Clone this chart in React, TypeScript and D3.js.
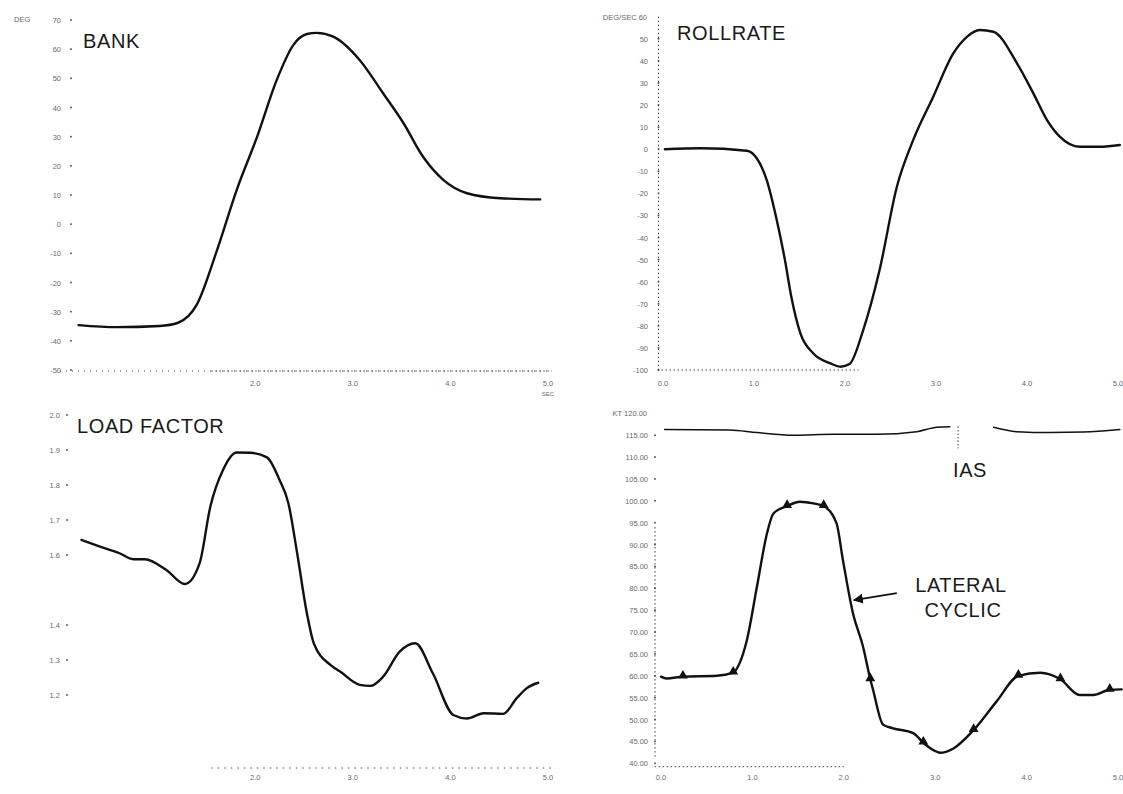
import React from 'react';
import * as d3 from 'd3';

// ---------- data ----------
const timeTicks = [0, 1, 2, 3, 4, 5];

const bankTime = [0.19, 0.58, 1.02, 1.21, 1.40, 1.61, 1.81, 2.02, 2.22, 2.39, 2.53, 2.63, 2.80, 3.07, 3.31, 3.52, 3.72, 3.93, 4.17, 4.51, 4.92];
const bankDeg = [-34.6, -35.3, -34.9, -33.8, -27.7, -8.8, 11.7, 30.0, 49.4, 61.4, 65.2, 65.6, 64.3, 56.3, 44.9, 34.6, 23.1, 15.1, 10.6, 8.9, 8.5];
const bankTicks = [70, 60, 50, 40, 30, 20, 10, 0, -10, -20, -30, -40, -50];
const bankTimeLabels = [2, 3, 4, 5];

const rollTime = [0.02, 0.41, 0.92, 1.03, 1.14, 1.25, 1.34, 1.41, 1.51, 1.65, 1.84, 1.95, 2.05, 2.20, 2.38, 2.57, 2.75, 2.97, 3.19, 3.34, 3.48, 3.63, 3.89, 4.07, 4.22, 4.36, 4.58, 4.80, 5.02];
const rollRate = [0, 0.4, -0.7, -4.1, -14.0, -32.1, -50.2, -66.8, -83.4, -92.4, -97.0, -98.5, -97.3, -81.9, -54.7, -17.0, 4.2, 23.8, 43.4, 50.9, 54.0, 53.2, 38.9, 25.3, 13.2, 5.7, 1.1, 1.1, 1.9];
const rollTicks = [60, 50, 40, 30, 20, 10, 0, -10, -20, -30, -40, -50, -60, -70, -80, -90, -100];
const rollTimeLabels = [0, 1, 2, 3, 4, 5];

const loadTime = [0.22, 0.41, 0.61, 0.75, 0.87, 1.09, 1.28, 1.43, 1.54, 1.67, 1.81, 1.95, 2.12, 2.25, 2.34, 2.43, 2.53, 2.60, 2.77, 2.87, 3.07, 3.18, 3.31, 3.48, 3.64, 3.82, 4.03, 4.17, 4.34, 4.54, 4.68, 4.78, 4.90];
const loadG = [1.643, 1.624, 1.605, 1.588, 1.588, 1.557, 1.517, 1.576, 1.738, 1.843, 1.893, 1.892, 1.879, 1.814, 1.748, 1.605, 1.433, 1.348, 1.286, 1.267, 1.229, 1.226, 1.252, 1.324, 1.348, 1.262, 1.143, 1.133, 1.148, 1.146, 1.191, 1.219, 1.235];
const loadTicks = [2.0, 1.9, 1.8, 1.7, 1.6, 1.4, 1.3, 1.2];
const loadTimeLabels = [2, 3, 4, 5];

const iasTime = [0.04, 0.75, 1.05, 1.45, 1.89, 2.36, 2.80, 3.02, 3.16, 3.40, 3.64, 3.89, 4.26, 4.62, 5.02];
const iasKt = [116.3, 116.2, 115.6, 115.0, 115.2, 115.2, 115.8, 116.8, 116.9, NaN, 116.8, 115.8, 115.6, 115.7, 116.3];
const iasMarkTime = 3.25;

const cyclicTime = [0, 0.06, 0.24, 0.61, 0.79, 0.86, 0.94, 1.05, 1.16, 1.23, 1.38, 1.52, 1.67, 1.78, 1.92, 1.99, 2.10, 2.21, 2.29, 2.32, 2.43, 2.54, 2.76, 2.87, 2.98, 3.05, 3.20, 3.42, 3.67, 3.91, 4.15, 4.37, 4.58, 4.73, 4.91, 5.04];
const cyclicPct = [59.8, 59.4, 59.8, 60.0, 60.7, 62.9, 68.2, 80.4, 92.6, 97.1, 98.8, 99.8, 99.4, 98.8, 94.9, 86.5, 74.3, 66.7, 59.2, 56.8, 48.8, 48.0, 46.9, 44.7, 43.0, 42.4, 43.4, 47.6, 54.1, 60.0, 60.7, 59.2, 55.6, 55.6, 56.8, 56.9];
const cyclicMarkerIdx = [2, 4, 10, 13, 18, 23, 27, 29, 31, 34];
const cyclicTicks = [120, 115, 110, 105, 100, 95, 90, 85, 80, 75, 70, 65, 60, 55, 50, 45, 40];
const cyclicTimeLabels = [0, 1, 2, 3, 4, 5];
const arrowFrom = [2.58, 78.9];
const arrowTo = [2.11, 77.3];

// ---------- helpers ----------
const FONT = "'Liberation Sans', Arial, Helvetica, sans-serif";
const tickStyle = { fontSize: 7.5, fill: '#6a6a6a', fontFamily: FONT } as const;

type Pt = [number, number];
const zip = (a: number[], b: number[]): Pt[] => a.map((v, i) => [v, b[i]]);

function YLabels({ y, ticks, x, dotX, fmt }: { y: d3.ScaleLinear<number, number>; ticks: number[]; x: number; dotX: number; fmt: (v: number) => string }) {
  return (
    <g>
      {ticks.map((t, i) => (
        <g key={i}>
          <text x={x} y={y(t) + 3} textAnchor="end" style={tickStyle}>{fmt(t)}</text>
          <rect x={dotX - 0.8} y={y(t) - 0.8} width={1.6} height={1.6} fill="#444" />
        </g>
      ))}
    </g>
  );
}

function XLabels({ x, ticks, yPos }: { x: d3.ScaleLinear<number, number>; ticks: number[]; yPos: number }) {
  return (
    <g>
      {ticks.map((t, i) => (
        <text key={i} x={x(t)} y={yPos} textAnchor="middle" style={tickStyle}>{t.toFixed(1)}</text>
      ))}
    </g>
  );
}

export default function App() {
  // Bank panel
  const xBank = d3.scaleLinear().domain([0, 5]).range([60, 548]);
  const yBank = d3.scaleLinear().domain([-50, 70]).range([370, 20]);
  // Rollrate panel
  const xRoll = d3.scaleLinear().domain([0, 5]).range([663, 1118]);
  const yRoll = d3.scaleLinear().domain([-100, 60]).range([370, 16.7]);
  // Load factor panel
  const xLoad = d3.scaleLinear().domain([0, 5]).range([60, 548]);
  const yLoad = d3.scaleLinear().domain([1.0, 2.0]).range([765, 415]);
  // Lateral cyclic panel
  const xCyc = d3.scaleLinear().domain([0, 5]).range([661, 1118]);
  const yCyc = d3.scaleLinear().domain([40, 120]).range([763.3, 413.3]);

  const mkLine = (x: d3.ScaleLinear<number, number>, y: d3.ScaleLinear<number, number>) =>
    d3.line<Pt>().defined(d => !isNaN(d[1])).x(d => x(d[0])).y(d => y(d[1])).curve(d3.curveMonotoneX);

  const bankPath = mkLine(xBank, yBank)(zip(bankTime, bankDeg)) || '';
  const rollPath = mkLine(xRoll, yRoll)(zip(rollTime, rollRate)) || '';
  const loadPath = mkLine(xLoad, yLoad)(zip(loadTime, loadG)) || '';
  const iasPath = mkLine(xCyc, yCyc)(zip(iasTime, iasKt)) || '';
  const cycPath = mkLine(xCyc, yCyc)(zip(cyclicTime, cyclicPct)) || '';
  const tri = d3.symbol().type(d3.symbolTriangle).size(42)() || '';

  const curveStyle = { fill: 'none', stroke: '#111', strokeWidth: 2.4, strokeLinejoin: 'round' as const, strokeLinecap: 'round' as const };
  const titleStyle = { fontSize: 20, fill: '#1a1a1a', fontFamily: FONT, letterSpacing: 0.6 } as const;
  const dotted = { stroke: '#444', strokeWidth: 1, strokeDasharray: '1.5,2.5' } as const;

  return (
    <svg width={1123} height={794} style={{ position: 'absolute', left: 0, top: 0, background: '#fff' }}>
      <rect width={1123} height={794} fill="#fff" />
      <defs>
        <marker id="arrowHead" viewBox="0 0 10 10" refX="9" refY="5" markerWidth="5" markerHeight="5" orient="auto">
          <path d="M0,0 L10,5 L0,10 z" fill="#111" />
        </marker>
      </defs>

      {/* ---------- BANK ---------- */}
      <g>
        <text x={14} y={22} style={tickStyle}>DEG</text>
        <YLabels y={yBank} ticks={bankTicks} x={61} dotX={71} fmt={v => String(v)} />
        <line x1={xBank(0)} x2={xBank(5)} y1={371} y2={371} {...dotted} strokeDasharray="1,5" />
        <line x1={xBank(1.55)} x2={xBank(5.04)} y1={371} y2={371} {...dotted} />
        <XLabels x={xBank} ticks={bankTimeLabels} yPos={386} />
        <text x={xBank(5)} y={396} textAnchor="middle" style={{ ...tickStyle, fontSize: 6 }}>SEC</text>
        <path d={bankPath} style={curveStyle} />
        <text x={83} y={48} style={titleStyle}>BANK</text>
      </g>

      {/* ---------- ROLLRATE ---------- */}
      <g>
        <text x={647} y={20} textAnchor="end" style={tickStyle}>DEG/SEC 60</text>
        <YLabels y={yRoll} ticks={rollTicks.slice(1)} x={648} dotX={658.5} fmt={v => String(v)} />
        <line x1={658.5} x2={658.5} y1={yRoll(60)} y2={yRoll(-100)} {...dotted} />
        <line x1={xRoll(-0.06)} x2={xRoll(2.15)} y1={370} y2={370} {...dotted} />
        <XLabels x={xRoll} ticks={rollTimeLabels} yPos={386} />
        <path d={rollPath} style={curveStyle} />
        <text x={677} y={40} style={titleStyle}>ROLLRATE</text>
      </g>

      {/* ---------- LOAD FACTOR ---------- */}
      <g>
        <YLabels y={yLoad} ticks={loadTicks} x={60} dotX={67} fmt={v => v.toFixed(1)} />
        <line x1={xLoad(1.55)} x2={xLoad(5.04)} y1={768} y2={768} {...dotted} strokeDasharray="1.5,5" />
        <XLabels x={xLoad} ticks={loadTimeLabels} yPos={780} />
        <path d={loadPath} style={curveStyle} />
        <text x={77} y={433} style={titleStyle}>LOAD FACTOR</text>
      </g>

      {/* ---------- LATERAL CYCLIC / IAS ---------- */}
      <g>
        <text x={647} y={yCyc(120) + 3} textAnchor="end" style={tickStyle}>KT 120.00</text>
        <YLabels y={yCyc} ticks={cyclicTicks.slice(1)} x={648} dotX={655} fmt={v => v.toFixed(2)} />
        <line x1={655} x2={655} y1={yCyc(94)} y2={yCyc(41)} {...dotted} />
        <line x1={xCyc(-0.07)} x2={xCyc(2.0)} y1={766.7} y2={766.7} {...dotted} />
        <XLabels x={xCyc} ticks={cyclicTimeLabels} yPos={780} />
        <path d={iasPath} style={{ ...curveStyle, strokeWidth: 1.5 }} />
        <line x1={xCyc(iasMarkTime)} x2={xCyc(iasMarkTime)} y1={yCyc(117)} y2={yCyc(112)} stroke="#333" strokeWidth={1} strokeDasharray="1.5,2" />
        <path d={cycPath} style={curveStyle} />
        {cyclicMarkerIdx.map((i, k) => (
          <path key={k} d={tri} transform={`translate(${xCyc(cyclicTime[i])},${yCyc(cyclicPct[i]) - 1})`} fill="#111" />
        ))}
        <text x={970} y={477} textAnchor="middle" style={titleStyle}>IAS</text>
        <text x={961} y={592} textAnchor="middle" style={titleStyle}>LATERAL</text>
        <text x={963} y={617} textAnchor="middle" style={titleStyle}>CYCLIC</text>
        <line x1={xCyc(arrowFrom[0])} y1={yCyc(arrowFrom[1])} x2={xCyc(arrowTo[0])} y2={yCyc(arrowTo[1])} stroke="#111" strokeWidth={2} markerEnd="url(#arrowHead)" />
      </g>
    </svg>
  );
}
